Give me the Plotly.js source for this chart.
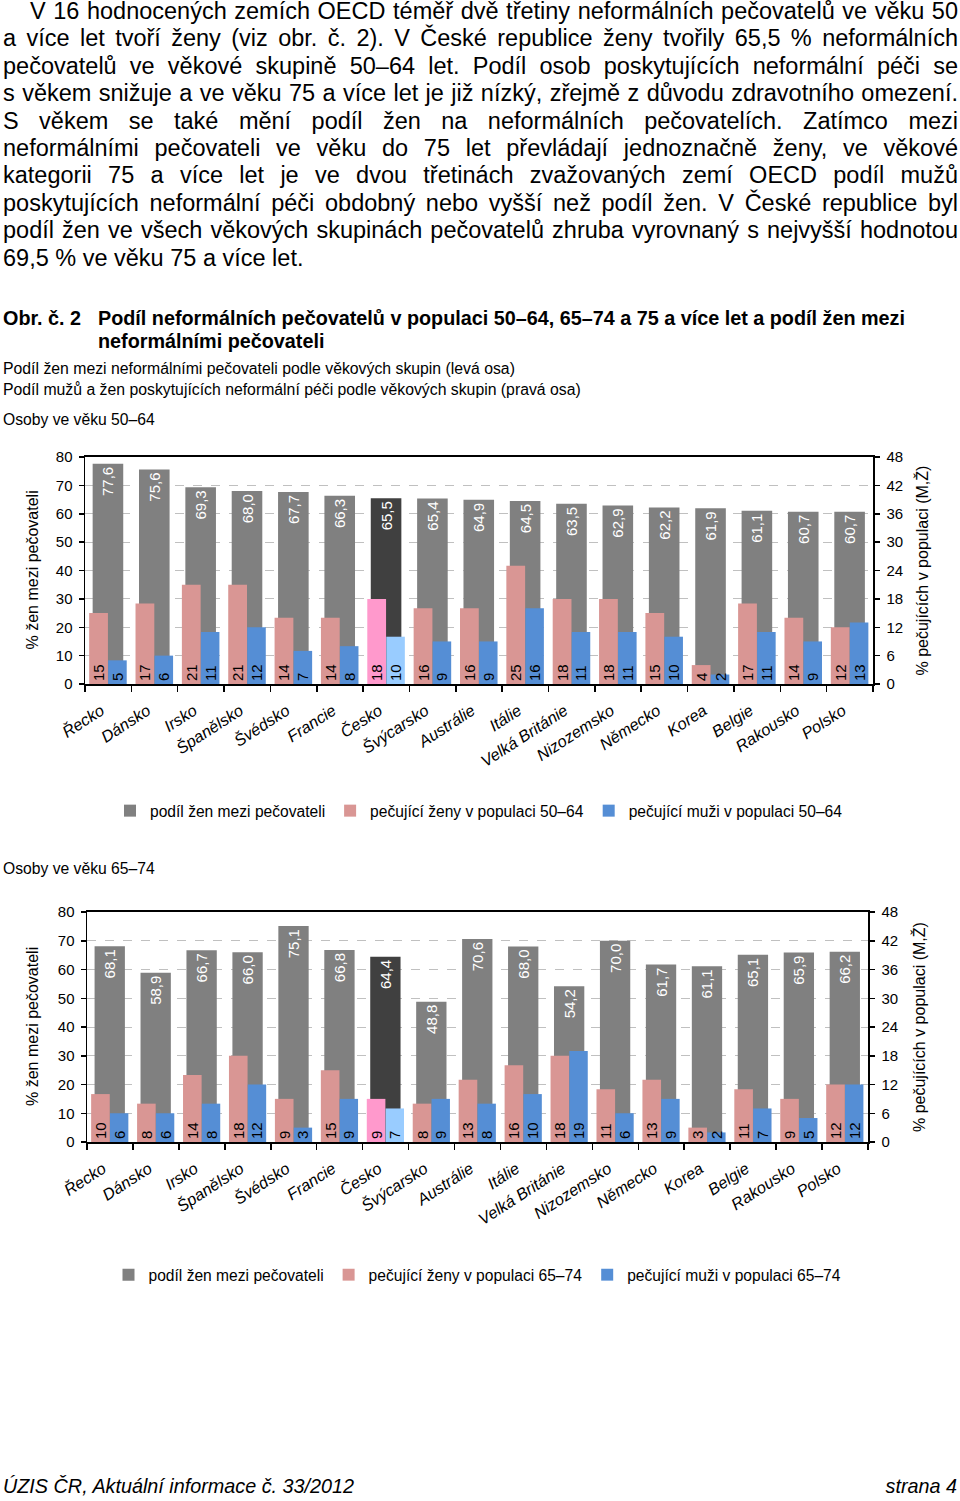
<!DOCTYPE html>
<html><head><meta charset="utf-8">
<script src="https://cdn.plot.ly/plotly-3.0.1.min.js"></script>
<style>
body{margin:0;width:960px;height:1501px;position:relative;background:#fff;font-family:"Liberation Sans",Arial,sans-serif;color:#000;overflow:hidden}
.para{position:absolute;left:3px;top:-2px;width:955px;font-size:23.5px;line-height:27.4px}
.para div{white-space:nowrap;text-align:justify;text-align-last:justify}
.para div.first{text-indent:27px}
.para div.last{text-align-last:left}
.abs{position:absolute;white-space:nowrap}
#c1{position:absolute;left:0;top:440px;width:960px;height:400px}
#c2{position:absolute;left:0;top:895px;width:960px;height:400px}
</style></head><body>
<div class="para">
<div class="first">V 16 hodnocených zemích OECD téměř dvě třetiny neformálních pečovatelů ve věku 50</div>
<div>a více let tvoří ženy (viz obr. č.&nbsp;2). V&nbsp;České republice ženy tvořily 65,5 % neformálních</div>
<div>pečovatelů ve věkové skupině 50–64 let. Podíl osob poskytujících neformální péči se</div>
<div>s věkem snižuje a ve věku 75 a více let je již nízký, zřejmě z důvodu zdravotního omezení.</div>
<div>S&nbsp;věkem se také mění podíl žen na neformálních pečovatelích. Zatímco mezi</div>
<div>neformálními pečovateli ve věku do 75 let převládají jednoznačně ženy, ve věkové</div>
<div>kategorii 75 a více let je ve dvou třetinách zvažovaných zemí OECD podíl mužů</div>
<div>poskytujících neformální péči obdobný nebo vyšší než podíl žen. V&nbsp;České republice byl</div>
<div>podíl žen ve všech věkových skupinách pečovatelů zhruba vyrovnaný s nejvyšší hodnotou</div>
<div class="last">69,5 % ve věku 75 a více let.</div>
</div>
<div class="abs" style="left:3px;top:307px;font-size:19.8px;line-height:23px;font-weight:bold">Obr. č. 2</div>
<div class="abs" style="left:98px;top:307px;font-size:19.8px;font-weight:bold;line-height:23px">Podíl neformálních pečovatelů v populaci 50–64, 65–74 a 75 a více let a podíl žen mezi<br>neformálními pečovateli</div>
<div class="abs" style="left:3px;top:360px;font-size:15.8px;line-height:18px">Podíl žen mezi neformálními pečovateli podle věkových skupin (levá osa)</div>
<div class="abs" style="left:3px;top:381px;font-size:15.8px;line-height:18px">Podíl mužů a žen poskytujících neformální péči podle věkových skupin (pravá osa)</div>
<div class="abs" style="left:3px;top:411px;font-size:15.7px;line-height:18px">Osoby ve věku 50–64</div>
<div class="abs" style="left:3px;top:860px;font-size:15.7px;line-height:18px">Osoby ve věku 65–74</div>
<div class="abs" style="left:3px;top:1475px;font-size:19.8px;line-height:23px;font-style:italic">ÚZIS ČR, Aktuální informace č. 33/2012</div>
<div class="abs" style="right:3px;top:1475px;font-size:19.8px;line-height:23px;font-style:italic">strana 4</div>
<div id="c1"></div>
<div id="c2"></div>
<script>
const countries = ["Řecko","Dánsko","Irsko","Španělsko","Švédsko","Francie","Česko","Švýcarsko","Austrálie","Itálie","Velká Británie","Nizozemsko","Německo","Korea","Belgie","Rakousko","Polsko"];

// 50–64
const share5064 = [77.6,75.6,69.3,68.0,67.7,66.3,65.5,65.4,64.9,64.5,63.5,62.9,62.2,61.9,61.1,60.7,60.7];
const women5064 = [15,17,21,21,14,14,18,16,16,25,18,18,15,4,17,14,12];
const men5064   = [5,6,11,12,7,8,10,9,9,16,11,11,10,2,11,9,13];

// 65–74
const share6574 = [68.1,58.9,66.7,66.0,75.1,66.8,64.4,48.8,70.6,68.0,54.2,70.0,61.7,61.1,65.1,65.9,66.2];
const women6574 = [10,8,14,18,9,15,9,8,13,16,18,11,13,3,11,9,12];
const men6574   = [6,6,8,12,3,9,7,9,8,10,19,6,9,2,7,5,12];

const leftTitle = "% žen mezi pečovateli";
const rightTitle = "% pečujících v populaci (M,Ž)";

const F = '"Liberation Sans", Arial, sans-serif';
const HL = "Česko";

function fmt(v){ return v.toFixed(1).replace('.', ','); }

function build(el, share, women, men, ageLabel, g){
  const traces = [
    {type:'bar', x:countries, y:share, yaxis:'y', name:'podíl žen mezi pečovateli',
     width:0.66, offset:-0.335,
     marker:{color:countries.map(c=>c===HL?'#404040':'#808080')},
     text:share.map(fmt), textposition:'inside', insidetextanchor:'end', textangle:-90,
     insidetextfont:{color:'#ffffff', size:15, family:F}, hoverinfo:'skip'},
    {type:'bar', x:countries, y:women, yaxis:'y2', name:'pečující ženy v populaci '+ageLabel,
     width:0.405, offset:-0.41,
     marker:{color:countries.map(c=>c===HL?'#ff99cc':'#d99694')},
     text:women.map(String), textposition:'inside', insidetextanchor:'start', textangle:-90,
     insidetextfont:{color:'#000000', size:15, family:F}, hoverinfo:'skip'},
    {type:'bar', x:countries, y:men, yaxis:'y2', name:'pečující muži v populaci '+ageLabel,
     width:0.40, offset:0,
     marker:{color:countries.map(c=>c===HL?'#99ccff':'#558ed5')},
     text:men.map(String), textposition:'inside', insidetextanchor:'start', textangle:-90,
     insidetextfont:{color:'#000000', size:15, family:F}, hoverinfo:'skip'}
  ];
  const layout = {
    width:960, height:400,
    margin:{l:g.l, r:960-g.r, t:g.t, b:400-g.b, pad:0, autoexpand:false},
    paper_bgcolor:'#ffffff', plot_bgcolor:'#ffffff',
    font:{family:F, size:15, color:'#000'},
    barmode:'overlay', showlegend:true,
    uniformtext:{minsize:15, mode:'show'},
    xaxis:{type:'category', showline:true, linecolor:'#000', linewidth:2, mirror:true,
      ticks:'outside', tickson:'boundaries', ticklen:6, tickwidth:1.5, tickcolor:'#000',
      tickangle:-33, tickfont:{family:F, size:16.3, style:'italic', color:'#000'},
      ticklabelstandoff:9, ticklabelshift:-7, showgrid:false, fixedrange:true, automargin:false},
    yaxis:{range:[0,80], dtick:10, tick0:0, showline:true, linecolor:'#000', linewidth:1.5,
      ticks:'outside', ticklen:5, tickwidth:1.5, tickcolor:'#000', ticklabelstandoff:3,
      tickfont:{size:15}, showgrid:true, gridcolor:'#c0c0c0', griddash:'dash', gridwidth:1,
      zeroline:false, fixedrange:true, automargin:false},
    yaxis2:{range:[0,48], dtick:6, tick0:0, overlaying:'y', side:'right', showline:true,
      linecolor:'#000', linewidth:1.5, ticks:'outside', ticklen:5, tickwidth:1.5, tickcolor:'#000',
      tickfont:{size:15}, ticklabelstandoff:4, showgrid:false, zeroline:false, fixedrange:true, automargin:false},
    legend:{orientation:'h', x:0.5, xanchor:'center', xref:'paper', yref:'container', y:g.ly, yanchor:'middle',
      font:{size:15.6}, itemwidth:30, traceorder:'normal'},
    annotations:[
      {xref:'paper', yref:'paper', x:0, y:0.5, xanchor:'center', yanchor:'middle', xshift:g.lt,
       textangle:-90, text:leftTitle, showarrow:false, font:{size:16}},
      {xref:'paper', yref:'paper', x:1, y:0.5, xanchor:'center', yanchor:'middle', xshift:g.rt,
       textangle:-90, text:rightTitle, showarrow:false, font:{size:16}}
    ]
  };
  Plotly.newPlot(el, traces, layout, {staticPlot:true, displayModeBar:false});
}

// legend y in container units: 1 - (centerY_in_div / 400)
build('c1', share5064, women5064, men5064, '50–64', {l:85, r:873, t:17, b:244, ly:1-(811-440)/400, lt:-53, rt:48});
build('c2', share6574, women6574, men6574, '65–74', {l:87, r:868, t:17, b:247, ly:1-(1275-895)/400, lt:-55, rt:51});
</script>
</body></html>
